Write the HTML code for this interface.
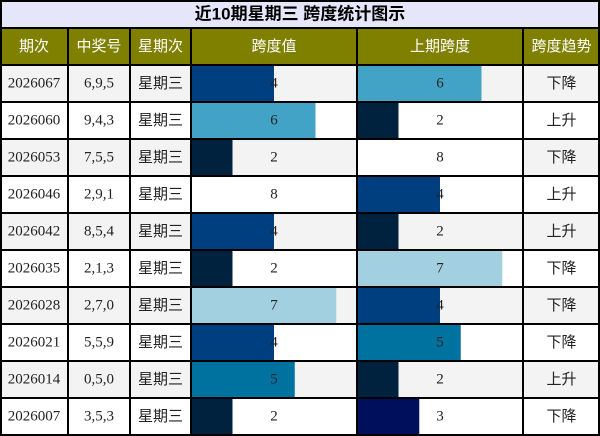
<!DOCTYPE html>
<html><head><meta charset="utf-8"><style>
body{margin:0;width:600px;height:436px;overflow:hidden;background:#fff;font-family:"Liberation Serif","Noto Sans CJK SC",serif;}
#c{position:absolute;left:0;top:0;}
</style></head><body>
<svg id="c" width="600" height="436"></svg>
<script>
const periods=["2026067","2026060","2026053","2026046","2026042","2026035","2026028","2026021","2026014","2026007"];
const numbers=["6,9,5","9,4,3","7,5,5","2,9,1","8,5,4","2,1,3","2,7,0","5,5,9","0,5,0","3,5,3"];
const spans=[4,6,2,8,4,2,7,4,5,2];
const prevSpans=[6,2,8,4,2,7,4,5,2,3];
const trends=["下降","上升","下降","上升","上升","下降","下降","下降","上升","下降"];
const colors={2:"#00223f",3:"#000f5c",4:"#003f7f",5:"#0072a0",6:"#43a3c6",7:"#a3d0e0",8:"#ffffff"};
const NS="http://www.w3.org/2000/svg";
const svg=document.getElementById('c');
const colX=[0,68,130,191,357,523,600];
const titleH=28,headY=28,headH=37,rowY=65,rowH=37,maxV=8;
function el(t,a){const e=document.createElementNS(NS,t);for(const k in a)e.setAttribute(k,a[k]);svg.appendChild(e);return e;}
function xs(v,i){return (colX[i+1]-colX[i])*v/maxV;}
function txt(x,y,s,o){const t=el('text',Object.assign({x:x,y:y,'text-anchor':'middle','dominant-baseline':'central','font-size':15,fill:'#222'},o||{}));t.textContent=s;return t;}
let r=el('rect',{x:0,y:0,width:600,height:titleH,fill:'#e6e6fa'});

let t=txt(300,14,'近10期星期三 跨度统计图示',{'font-weight':'bold','font-size':17,fill:'#000','font-family':'"Liberation Sans","Noto Sans CJK SC",sans-serif'});

const heads=["期次","中奖号","星期次","跨度值","上期跨度","跨度趋势"];
let hb=el('rect',{x:0,y:headY,width:600,height:headH,fill:'#808000'});

heads.forEach((h,i)=>{const e=txt((colX[i]+colX[i+1])/2,headY+headH/2,h,{fill:'#fff','font-family':'"Liberation Sans","Noto Sans CJK SC",sans-serif'});
});
periods.forEach((p,k)=>{const y=rowY+k*rowH;
 const bg=el('rect',{x:0,y:y,width:600,height:rowH,fill:k%2?'#ffffff':'#f3f3f3'});
 
 const b1=el('rect',{x:colX[3],y:y,width:xs(spans[k],3),height:rowH,fill:colors[spans[k]]});
 
 const b2=el('rect',{x:colX[4],y:y,width:xs(prevSpans[k],4),height:rowH,fill:colors[prevSpans[k]]});
 
 const cy=y+rowH/2;
 let a=txt(34,cy,p);
 a=txt(99,cy,numbers[k]);
 a=txt(160.5,cy,'星期三',{'font-family':'"Liberation Sans","Noto Sans CJK SC",sans-serif'});
 a=txt(274,cy,String(spans[k]));
 a=txt(440,cy,String(prevSpans[k]));
 a=txt(561.5,cy,trends[k],{'font-family':'"Liberation Sans","Noto Sans CJK SC",sans-serif'});
});
// grid lines
for(let k=0;k<=11;k++){const y=k==0?titleH:rowY+(k-1)*rowH;el('line',{x1:0,x2:600,y1:y,y2:y,stroke:'#000','stroke-width':2});}
el('line',{x1:0,x2:600,y1:1,y2:1,stroke:'#000','stroke-width':2});
colX.forEach((x,i)=>{const xx=i==0?1:(i==6?599:x);el('line',{x1:xx,x2:xx,y1:i==0||i==6?0:headY,y2:436,stroke:'#000','stroke-width':2});});
</script>
</body></html>
